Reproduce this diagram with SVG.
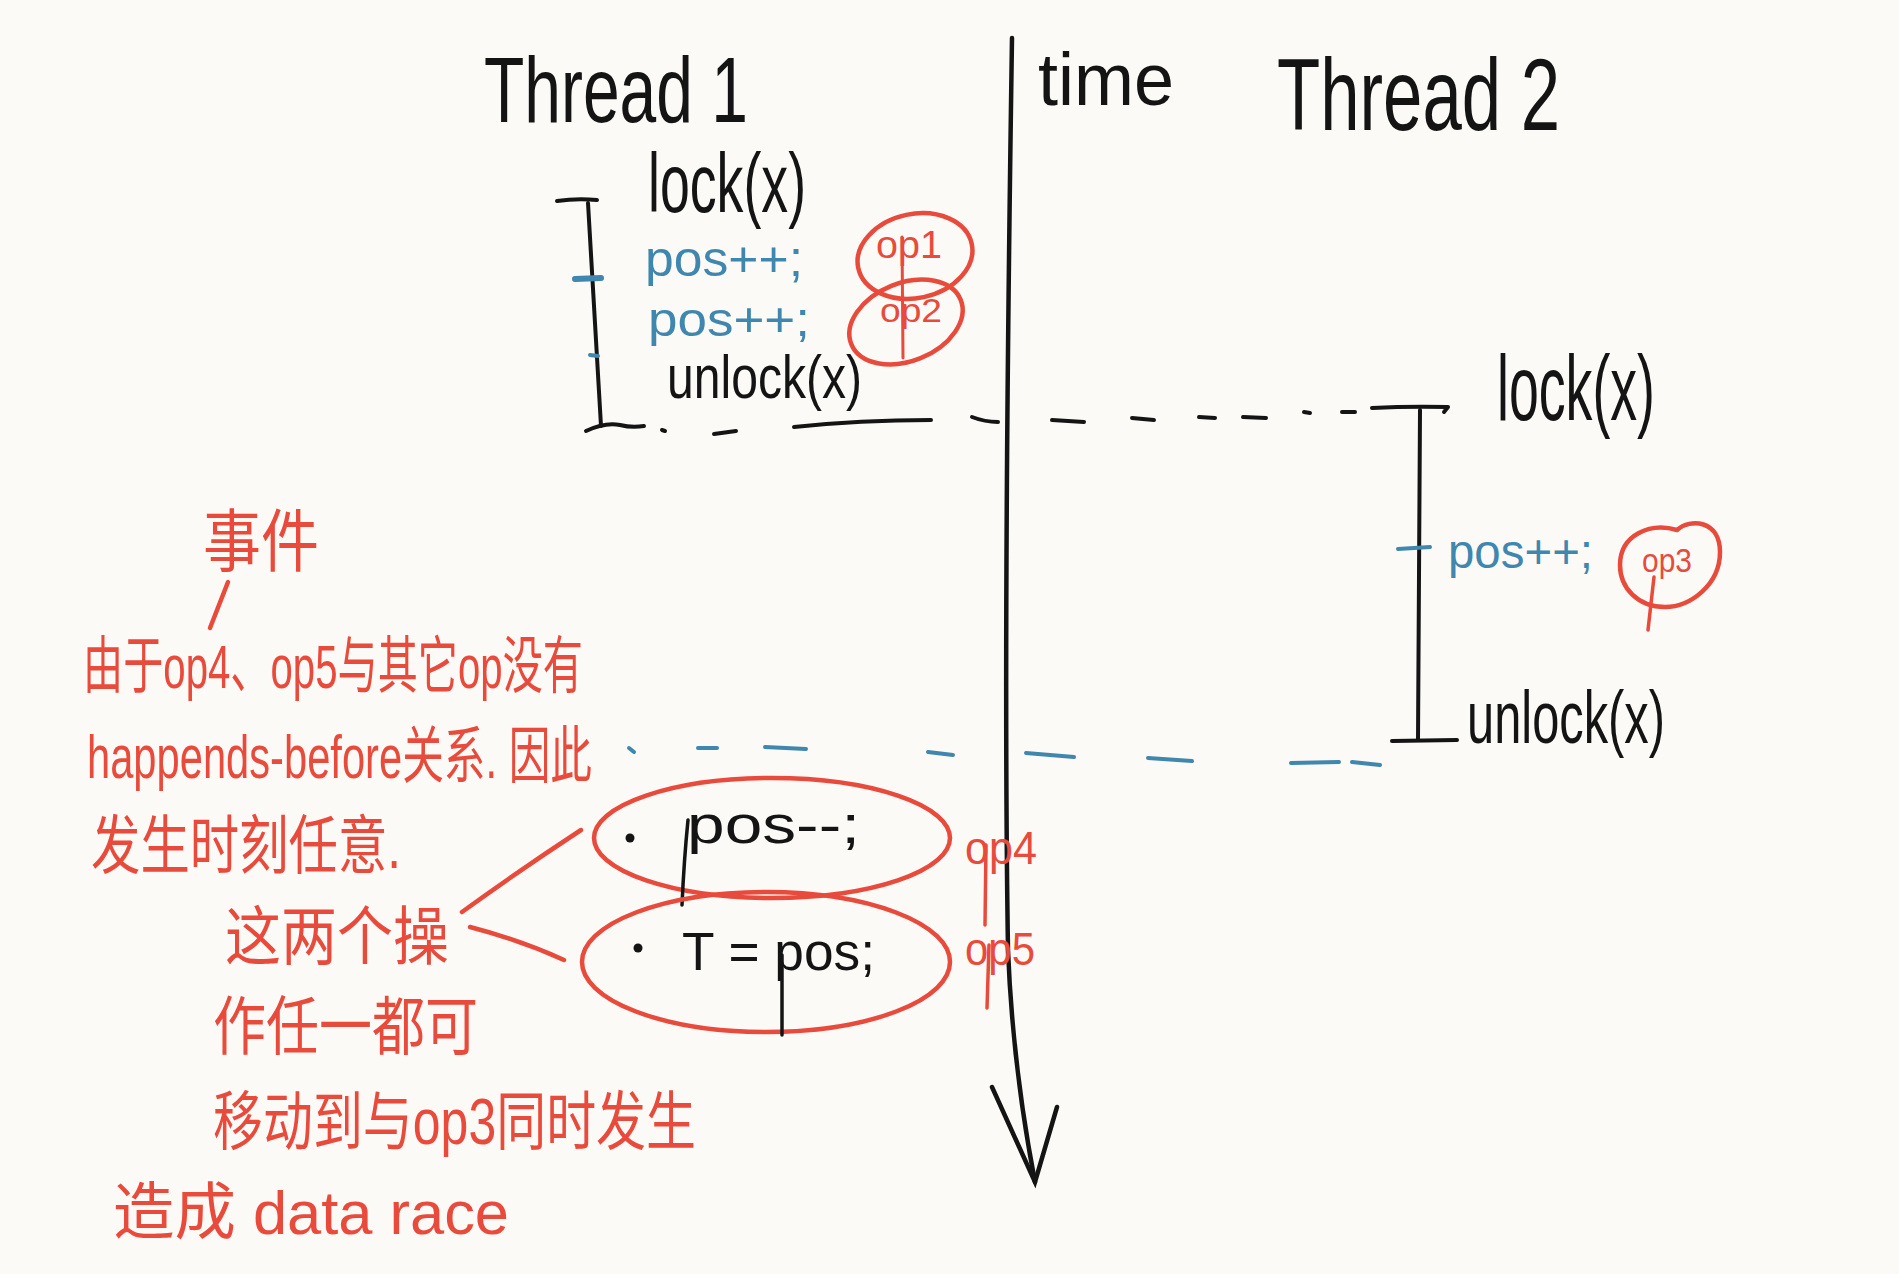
<svg xmlns="http://www.w3.org/2000/svg" width="1899" height="1274" viewBox="0 0 1899 1274">
<defs>
<style>
.bg{fill:#fcfaf6}
.k{fill:none;stroke:#141414;stroke-width:4;stroke-linecap:round;stroke-linejoin:round}
.kb{fill:none;stroke:#141414;stroke-width:4.5;stroke-linecap:round}
.b{fill:none;stroke:#3f87ae;stroke-width:4;stroke-linecap:round}
.r{fill:none;stroke:#e84b3c;stroke-width:4.5;stroke-linecap:round;stroke-linejoin:round}
.tk{fill:#141414;font-family:"Liberation Sans","DejaVu Sans",sans-serif}
.tb{fill:#3f87ae;font-family:"Liberation Sans","DejaVu Sans",sans-serif}
.tr{fill:#e84b3c;font-family:"Liberation Sans","DejaVu Sans",sans-serif}
.tc{fill:#e84b3c;font-family:"Liberation Sans","Noto Sans CJK SC",sans-serif}
</style>
</defs>
<rect class="bg" x="0" y="0" width="1899" height="1274"/>

<g id="connectors">
  <!-- time axis -->
  <path class="kb" d="M1012,38 C1008,300 1004,700 1008,950 C1012,1050 1025,1130 1035,1182"/>
  <path class="kb" d="M992,1087 L1035,1182 L1057,1107"/>
  <!-- thread 1 bracket -->
  <path class="k" d="M557,201 Q577,198 597,200"/>
  <path class="k" d="M588,203 L601,426"/>
  <path class="b" d="M575,279 L601,278" style="stroke-width:6"/>
  <path class="b" d="M590,355 L598,356"/>
  <!-- black dashed line t1 unlock -> t2 lock -->
  <path class="k" d="M586,431 Q605,422 620,425 Q632,428 644,426"/>
  <path class="k" d="M662,430 L665,431"/>
  <path class="k" d="M714,434 L736,431"/>
  <path class="k" d="M794,427 Q860,420 931,420"/>
  <path class="k" d="M972,417 Q985,422 998,422"/>
  <path class="k" d="M1052,420 L1084,422"/>
  <path class="k" d="M1132,418 L1154,420"/>
  <path class="k" d="M1199,417 L1215,418"/>
  <path class="k" d="M1243,417 L1266,418"/>
  <path class="k" d="M1304,412 L1310,413"/>
  <path class="k" d="M1342,412 L1355,412"/>
  <!-- thread 2 bracket -->
  <path class="k" d="M1372,408 Q1410,406 1448,407 L1444,412"/>
  <path class="k" d="M1420,410 L1418,740"/>
  <path class="k" d="M1392,741 L1457,740"/>
  <path class="b" d="M1398,549 L1430,547"/>
  <!-- blue dashed line t2 unlock -->
  <path class="b" d="M629,748 L634,752"/>
  <path class="b" d="M698,748 L717,748"/>
  <path class="b" d="M765,747 L806,749"/>
  <path class="b" d="M928,752 L953,755"/>
  <path class="b" d="M1026,753 L1074,757"/>
  <path class="b" d="M1148,758 L1192,761"/>
  <path class="b" d="M1291,763 L1339,762"/>
  <path class="b" d="M1352,762 L1380,765"/>
  <!-- note leaders -->
  <path class="r" d="M228,582 L210,628"/>
  <path class="r" d="M462,912 Q520,870 581,830"/>
  <path class="r" d="M470,927 Q520,940 564,960"/>
</g>

<g id="thread1-label"><text class="tk" x="484" y="122" font-size="92" textLength="264" lengthAdjust="spacingAndGlyphs">Thread 1</text></g>
<g id="time-label"><text class="tk" x="1038" y="105" font-size="74" textLength="136" lengthAdjust="spacingAndGlyphs">time</text></g>
<g id="thread2-label"><text class="tk" x="1277" y="130" font-size="102" textLength="283" lengthAdjust="spacingAndGlyphs">Thread 2</text></g>

<g id="t1-lock"><text class="tk" x="648" y="212" font-size="84" textLength="158" lengthAdjust="spacingAndGlyphs">lock(x)</text></g>
<g id="t1-pos1"><text class="tb" x="645" y="276" font-size="50" textLength="158" lengthAdjust="spacingAndGlyphs">pos++;</text></g>
<g id="t1-pos2"><text class="tb" x="648" y="336" font-size="48" textLength="162" lengthAdjust="spacingAndGlyphs">pos++;</text></g>
<g id="t1-unlock"><text class="tk" x="667" y="398" font-size="62" textLength="195" lengthAdjust="spacingAndGlyphs">unlock(x)</text></g>

<g id="op1">
  <ellipse class="r" cx="915" cy="256" rx="58" ry="42" transform="rotate(-12 915 256)"/>
  <text class="tr" x="876" y="258" font-size="38" textLength="66" lengthAdjust="spacingAndGlyphs">op1</text>
</g>
<g id="op2">
  <ellipse class="r" cx="906" cy="322" rx="59" ry="39" transform="rotate(-22 906 322)"/>
  <text class="tr" x="880" y="322" font-size="34" textLength="62" lengthAdjust="spacingAndGlyphs">op2</text>
  <path class="r" d="M902,237 L903,358" style="stroke-width:3"/>
</g>

<g id="t2-lock"><text class="tk" x="1497" y="420" font-size="92" textLength="158" lengthAdjust="spacingAndGlyphs">lock(x)</text></g>
<g id="t2-pos"><text class="tb" x="1448" y="568" font-size="48" textLength="145" lengthAdjust="spacingAndGlyphs">pos++;</text></g>
<g id="op3">
  <path class="r" d="M1677,530 C1690,518 1720,520 1720,552 C1720,585 1690,607 1665,607 C1638,607 1620,588 1620,565 C1620,535 1650,522 1677,530 Z"/>
  <text class="tr" x="1642" y="572" font-size="34" textLength="50" lengthAdjust="spacingAndGlyphs">op3</text>
  <path class="r" d="M1654,577 L1648,630" style="stroke-width:3.5"/>
</g>
<g id="t2-unlock"><text class="tk" x="1467" y="743" font-size="74" textLength="198" lengthAdjust="spacingAndGlyphs">unlock(x)</text></g>

<g id="op4">
  <ellipse class="r" cx="772" cy="838" rx="178" ry="60"/>
  <circle cx="630" cy="838" r="4.5" fill="#141414"/>
  <text class="tk" x="687" y="843" font-size="54" textLength="173" lengthAdjust="spacingAndGlyphs">pos--;</text>
  <path class="k" d="M688,820 Q684,860 682,905" style="stroke-width:3.5"/>
  <text class="tr" x="965" y="864" font-size="46" textLength="72" lengthAdjust="spacingAndGlyphs">op4</text>
  <path class="r" d="M986,845 L985,925" style="stroke-width:3.5"/>
</g>
<g id="op5">
  <ellipse class="r" cx="766" cy="962" rx="184" ry="70"/>
  <circle cx="638" cy="948" r="4.5" fill="#141414"/>
  <text class="tk" x="682" y="970" font-size="54" textLength="193" lengthAdjust="spacingAndGlyphs">T = pos;</text>
  <path class="k" d="M782,955 L782,1035" style="stroke-width:3.5"/>
  <text class="tr" x="965" y="965" font-size="46" textLength="70" lengthAdjust="spacingAndGlyphs">op5</text>
  <path class="r" d="M989,945 L987,1008" style="stroke-width:3.5"/>
</g>

<g id="note">
  <text class="tc" x="203" y="566" font-size="68" textLength="116" lengthAdjust="spacingAndGlyphs">事件</text>
  <text class="tc" x="83" y="688" font-size="62" textLength="500" lengthAdjust="spacingAndGlyphs">由于op4、op5与其它op没有</text>
  <text class="tc" x="87" y="778" font-size="62" textLength="505" lengthAdjust="spacingAndGlyphs">happends-before关系. 因此</text>
  <text class="tc" x="91" y="868" font-size="64" textLength="310" lengthAdjust="spacingAndGlyphs">发生时刻任意.</text>
  <text class="tc" x="225" y="959" font-size="64" textLength="224" lengthAdjust="spacingAndGlyphs">这两个操</text>
  <text class="tc" x="213" y="1049" font-size="64" textLength="265" lengthAdjust="spacingAndGlyphs">作任一都可</text>
  <text class="tc" x="213" y="1144" font-size="64" textLength="483" lengthAdjust="spacingAndGlyphs">移动到与op3同时发生</text>
  <text class="tc" x="113" y="1234" font-size="62" textLength="396" lengthAdjust="spacingAndGlyphs">造成 data race</text>
</g>
</svg>
